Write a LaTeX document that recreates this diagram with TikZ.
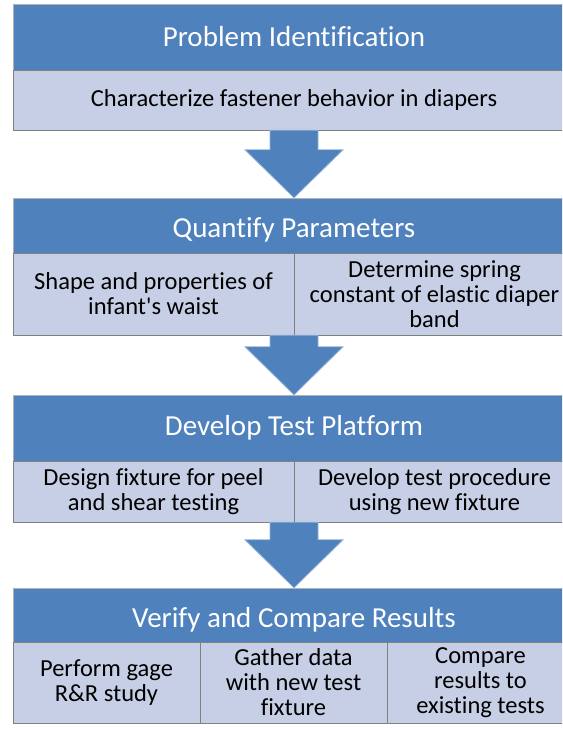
\documentclass[tikz,border=0pt]{standalone}
\usepackage{fontspec}
\setmainfont[Ligatures=NoCommon]{Carlito}
\usetikzlibrary{calc}

\definecolor{hdrblue}{RGB}{79,129,189}
\definecolor{cellblue}{RGB}{198,207,229}
\definecolor{rimblue}{RGB}{149,179,215}

\tikzset{
  hdr/.style={rectangle, fill=hdrblue, draw=gray!60, minimum width=562pt, inner sep=0pt,
    text=white, font=\fontsize{29}{31}\selectfont},
  lowhdr/.style={hdr, text height=24pt, text depth=0pt},
  cell/.style={rectangle, fill=cellblue, draw=gray, inner sep=0pt, align=center,
    font=\fontsize{24.5}{25}\selectfont},
  flowarrow/.style={fill=hdrblue, draw=rimblue, line width=0.8pt},
  flow/.style={to path={let \p1=(\tikztostart), \p2=(\tikztotarget) in
    (\x1-24pt,\y1) -- (\x1+24pt,\y1) -- (\x1+24pt,\y2+48pt) -- (\x1+49pt,\y2+48pt)
    -- (\x2,\y2) -- (\x1-49pt,\y2+48pt) -- (\x1-24pt,\y2+48pt) -- cycle}},
}

\begin{document}
\begin{tikzpicture}[x=1pt,y=-1pt]
\useasboundingbox (0,0) rectangle (562,730);
\clip (0,0) rectangle (562,730);

% step 1
\node[hdr, minimum height=66pt] (hdr1) at (294,37) {Problem Identification};
\node[cell, minimum width=562pt, minimum height=60pt] (body1) at (294,100)
  {Characterize fastener behavior in diapers};

% step 2
\node[lowhdr, minimum height=55pt] (hdr2) at (294,225.5) {Quantify Parameters};
\node[cell, minimum width=281pt, minimum height=82pt] (left2) at (153.5,294)
  {Shape and properties of\\infant\textquotesingle s waist};
\node[cell, minimum width=281pt, minimum height=82pt] (right2) at (434.5,294)
  {Determine spring\\constant of elastic diaper\\band};

% step 3
\node[hdr, minimum height=66pt] (hdr3) at (294,428) {Develop Test Platform};
\node[cell, minimum width=281pt, minimum height=61pt] (left3) at (153.5,491.5)
  {Design fixture for peel\\and shear testing};
\node[cell, minimum width=281pt, minimum height=61pt] (right3) at (434.5,491.5)
  {Develop test procedure\\using new fixture};

% step 4
\node[lowhdr, minimum height=54pt] (hdr4) at (294,615) {Verify and Compare Results};
\node[cell, minimum width=187pt, minimum height=81pt] (left4) at (106.5,682.5)
  {Perform gage\\R\&R study};
\node[cell, minimum width=187pt, minimum height=81pt] (mid4) at (293.5,682.5)
  {Gather data\\with new test\\fixture};
\node[cell, minimum width=187pt, minimum height=81pt] (right4) at (480.5,682.5)
  {Compare\\results to\\existing tests};

% block arrows between the steps
\path[flowarrow] (body1.south) to[flow] (hdr2.north);
\path[flowarrow] (hdr2.south |- left2.south) to[flow] (hdr3.north);
\path[flowarrow] (hdr3.south |- left3.south) to[flow] (hdr4.north);
\end{tikzpicture}
\end{document}
